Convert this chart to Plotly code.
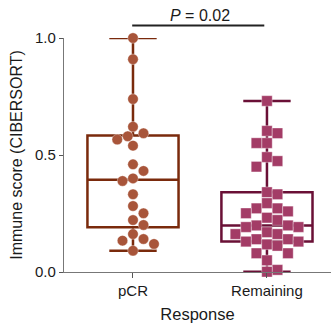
import numpy as np
import plotly.graph_objects as go

# ---------------- data ----------------
categories = ["pCR", "Remaining"]
pcr_scores = [1.0, 0.909, 0.739, 0.621, 0.593, 0.580, 0.566, 0.540, 0.460, 0.432,
              0.400, 0.389, 0.332, 0.282, 0.251, 0.222, 0.201, 0.162, 0.141, 0.134,
              0.120, 0.091]
remaining_scores = [0.731, 0.603, 0.593, 0.551, 0.551, 0.491, 0.474, 0.450, 0.341, 0.332,
                    0.294, 0.272, 0.272, 0.259, 0.251, 0.232, 0.222, 0.199, 0.199, 0.192,
                    0.192, 0.170, 0.162, 0.162, 0.140, 0.140, 0.130, 0.130, 0.118, 0.112,
                    0.080, 0.080, 0.050, 0.009, 0.001]
y_tick_values = [0.0, 0.5, 1.0]
y_tick_labels = ["0.0", "0.5", "1.0"]
p_value_text = "<i>P</i> = 0.02"

# ---------------- style ----------------
W, H = 331, 326
margin = dict(l=64, r=0, t=38, b=54, autoexpand=False)
x_range = [-0.515, 1.478]
y_range = [0.0, 1.0]
font_family = "Liberation Sans, Arial, Helvetica, sans-serif"
pcr_line, pcr_fill = "#7A2A0C", "#A8553A"
rem_line, rem_fill = "#6A1036", "#A33C66"
marker_px = 10.5

plot_w = W - margin["l"] - margin["r"]
plot_h = H - margin["t"] - margin["b"]
xscale = plot_w / (x_range[1] - x_range[0])
yscale = plot_h / (y_range[1] - y_range[0])


def swarm(values, size_px, shape):
    """Simple greedy beeswarm offsets (in x data units)."""
    step = size_px / 2.0
    cands = [0.0]
    for k in range(1, 15):
        cands += [k * step, -k * step]
    order = sorted(range(len(values)), key=lambda i: -values[i])
    placed, res = [], [0.0] * len(values)
    for i in order:
        y = values[i] * yscale
        chosen = cands[-1]
        for c in cands:
            ok = True
            for px, py in placed:
                dx, dy = c - px, y - py
                if shape == "circle":
                    coll = dx * dx + dy * dy < (size_px * 0.97) ** 2
                else:
                    coll = abs(dx) < size_px * 0.97 and abs(dy) < size_px * 0.97
                if coll:
                    ok = False
                    break
            if ok:
                chosen = c
                break
        placed.append((chosen, y))
        res[i] = chosen / xscale
    return res


def stats(v):
    a = np.asarray(v)
    return dict(q1=[float(np.percentile(a, 25, method="weibull"))],
                median=[float(np.median(a))],
                q3=[float(np.percentile(a, 75, method="weibull"))],
                lowerfence=[float(a.min())], upperfence=[float(a.max())])


fig = go.Figure()
groups = [(pcr_scores, pcr_line, pcr_fill, "circle"),
          (remaining_scores, rem_line, rem_fill, "square")]
for gi, (vals, lc, fc, sym) in enumerate(groups):
    fig.add_trace(go.Box(x=[gi], **stats(vals), width=0.68, whiskerwidth=0.52,
                         line=dict(color=lc, width=2.5), fillcolor="rgba(0,0,0,0)",
                         boxpoints=False, showlegend=False, hoverinfo="skip"))
for gi, (vals, lc, fc, sym) in enumerate(groups):
    offs = swarm(vals, marker_px, sym)
    fig.add_trace(go.Scatter(x=[gi + o for o in offs], y=vals, mode="markers",
                             marker=dict(symbol=sym, size=marker_px, color=fc,
                                         line=dict(color="rgba(255,255,255,0.45)", width=0.8)),
                             cliponaxis=False, showlegend=False))

# significance bracket
def xdom(v):
    return (v - x_range[0]) / (x_range[1] - x_range[0])

bracket_y = 1.053
fig.add_shape(type="line", xref="x domain", yref="paper",
              x0=xdom(0) - 0.003, x1=xdom(1) - 0.01, y0=bracket_y, y1=bracket_y,
              line=dict(color="#222222", width=2))
fig.add_annotation(x=0.5, xref="x", y=bracket_y, yref="paper", yanchor="bottom",
                   text=p_value_text, showarrow=False,
                   font=dict(size=16, color="#1a1a1a", family=font_family))

fig.update_layout(
    width=W, height=H, margin=margin,
    paper_bgcolor="white", plot_bgcolor="white",
    font=dict(family=font_family, size=15, color="#1a1a1a"),
    showlegend=False,
    xaxis=dict(range=x_range, tickvals=[0, 1], ticktext=categories, showgrid=False,
               zeroline=False, showline=True, linecolor="#777777", linewidth=1.3,
               ticks="outside", ticklen=5, tickcolor="#555555", automargin=False,
               tickfont=dict(size=15),
               title=dict(text="Response", font=dict(size=16.5), standoff=10)),
    yaxis=dict(range=y_range, tickvals=y_tick_values, ticktext=y_tick_labels,
               showgrid=False, zeroline=False, showline=True, linecolor="#777777",
               linewidth=1.3, ticks="outside", ticklen=4, tickcolor="#555555",
               automargin=False, tickfont=dict(size=15),
               title=dict(text="Immune score (CIBERSORT)", font=dict(size=16), standoff=8)),
)

fig.write_html("out.html", config={"displayModeBar": False})
with open("out.html", "r", encoding="utf-8") as fh:
    html = fh.read()
html = html.replace("<body>", '<body style="margin:0;padding:0;overflow:hidden">', 1)
with open("out.html", "w", encoding="utf-8") as fh:
    fh.write(html)
